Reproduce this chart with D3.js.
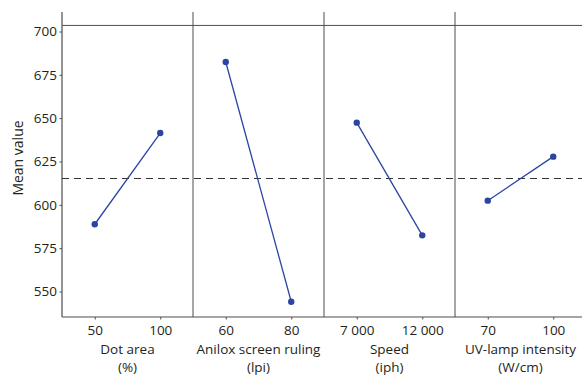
<!DOCTYPE html>
<html><head><meta charset="utf-8">
<script src="https://cdn.jsdelivr.net/npm/d3@7"></script>
<style>body{margin:0;background:#fff}svg{display:block}text{font-family:"Open Sans",sans-serif;fill:#231f20}</style>
</head><body><svg id="c" width="582" height="376"></svg>
<script>
const factors = ["Dot area", "Anilox screen ruling", "Speed", "UV-lamp intensity"];
const units = ["(%)", "(lpi)", "(iph)", "(W/cm)"];
const levels = [["50", "100"], ["60", "80"], ["7 000", "12 000"], ["70", "100"]];
const meanValues = [[588.8, 641.4], [682.4, 544.1], [647.4, 582.4], [602.4, 627.8]];
const grandMean = 615.2;
const yTicks = [550, 575, 600, 625, 650, 675, 700];

(function () {
const svg = d3.select("#c");
const mLeft = 62, mRight = 586, mTop = 12, mBottom = 317;
const y = d3.scaleLinear().domain([550, 700]).range([291.5, 31.5]);
const panel = d3.scaleBand().domain(factors).range([mLeft, mRight]);
const ink = "#4d4d4d", blue = "#2b45a0";

const ya = svg.append("g").attr("transform", `translate(${mLeft},0)`)
  .call(d3.axisLeft(y).tickValues(yTicks).tickSize(2.5).tickPadding(2.5));
ya.select(".domain").remove();
ya.selectAll("line").attr("stroke", ink);
ya.selectAll("text").style("font-size", "13.5px").attr("fill", "#231f20");
svg.append("line").attr("x1", mLeft).attr("x2", mLeft).attr("y1", mTop).attr("y2", mBottom)
  .attr("stroke", ink).attr("stroke-width", 1.2);
svg.append("text").attr("transform", `translate(23,158) rotate(-90)`)
  .attr("text-anchor", "middle").style("font-size", "14px").text("Mean value");

svg.append("line").attr("x1", mLeft).attr("x2", 582).attr("y1", mBottom).attr("y2", mBottom)
  .attr("stroke", ink).attr("stroke-width", 1.2);
svg.append("line").attr("x1", mLeft).attr("x2", 582).attr("y1", y(703.5)).attr("y2", y(703.5))
  .attr("stroke", ink).attr("stroke-width", 1);

svg.append("line").attr("x1", mLeft).attr("x2", 582).attr("y1", y(grandMean)).attr("y2", y(grandMean))
  .attr("stroke", "#333").attr("stroke-width", 1).attr("stroke-dasharray", "7,5");

factors.forEach((f, i) => {
  const x0 = panel(f), w = panel.bandwidth();
  if (i > 0) svg.append("line").attr("x1", x0).attr("x2", x0).attr("y1", mTop).attr("y2", mBottom)
    .attr("stroke", ink).attr("stroke-width", 1);
  const x = d3.scalePoint().domain(levels[i]).range([x0, x0 + w]).padding(0.5);
  const g = svg.append("g").attr("transform", `translate(0,${mBottom})`)
    .call(d3.axisBottom(x).tickSize(2.5).tickPadding(6));
  g.select(".domain").remove();
  g.selectAll("line").attr("stroke", ink);
  g.selectAll("text").style("font-size", "13.5px").attr("fill", "#231f20");
  const pts = levels[i].map((l, j) => [x(l), y(meanValues[i][j])]);
  svg.append("path").attr("d", d3.line()(pts)).attr("fill", "none").attr("stroke", blue).attr("stroke-width", 1.3);
  svg.selectAll(null).data(pts).enter().append("circle")
    .attr("cx", d => d[0]).attr("cy", d => d[1]).attr("r", 3.2).attr("fill", blue);
  const cx = (x(levels[i][0]) + x(levels[i][1])) / 2;
  svg.append("text").attr("x", cx).attr("y", 353.5).attr("text-anchor", "middle").style("font-size", "13.5px").text(f);
  svg.append("text").attr("x", cx).attr("y", 371.5).attr("text-anchor", "middle").style("font-size", "13.5px").text(units[i]);
});
})();
</script></body></html>
